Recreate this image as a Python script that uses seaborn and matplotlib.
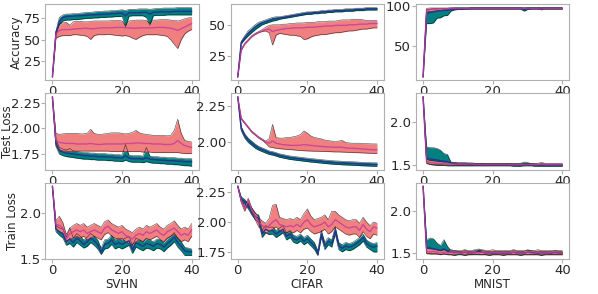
import matplotlib
matplotlib.use("Agg")
import matplotlib.pyplot as plt
import seaborn as sns

epochs = list(range(41))
datasets = ["SVHN", "CIFAR", "MNIST"]
metrics = ["Accuracy", "Test Loss", "Train Loss"]

# ---------------- Accuracy ----------------
svhn_acc_t = [7, 57, 72, 76, 77, 77.5, 77.5, 78, 78, 78.5, 78.5, 79, 79, 79.5, 79.5, 80, 80, 80.5, 80.5, 81, 81,
              78, 81.5, 81.5, 81.5, 81.5, 82, 82, 80, 82, 82, 82.5, 82.5, 82.5, 82.5, 83, 83, 83, 83, 83, 83]
svhn_acc_t_lo = [7, 55, 68, 72, 73, 73, 73.5, 73.5, 74, 74.5, 75, 75, 75.5, 75.5, 76, 76, 76.5, 76.5, 77, 77, 77.5,
                 65, 77.5, 78, 78, 78, 78, 76, 67, 78, 78.5, 78.5, 78.5, 79, 79, 79, 79, 79, 79, 79, 79]
svhn_acc_t_hi = [7, 60, 76, 79, 80, 80, 80.5, 80.5, 81, 81.5, 82, 82, 82.5, 83, 83, 83.5, 83.5, 84, 84, 84.5, 85,
                 84, 85.5, 85.5, 85.5, 86, 86, 86, 85.5, 86, 86.5, 86.5, 87, 87, 87, 87, 87.5, 87.5, 87.5, 87.5, 87.5]
svhn_acc_s = [7, 57, 61, 62, 62, 62, 62.5, 63, 63, 63.5, 63.5, 63, 63, 63.5, 64, 64, 64, 64, 64.5, 64.5, 64.5,
              64, 64, 63.5, 63.5, 64, 64, 64, 64, 64, 64.5, 64.5, 64.5, 64, 63.5, 62.5, 61, 63, 65, 67, 69]
svhn_acc_s_lo = [7, 52, 54, 55, 55, 55, 56, 56, 55.5, 55, 54, 50.5, 55, 56, 56, 56, 56.5, 56, 55.5, 55, 54.5,
                 55, 54, 52, 50.5, 53, 55, 56, 56, 56, 56, 55.5, 55, 54, 50, 45, 40, 50, 57, 60, 62]
svhn_acc_s_hi = [7, 60, 68, 70, 70.5, 67, 71, 71.5, 71.5, 71, 71, 71.5, 72, 72, 72, 72, 72, 72.5, 72.5, 72.5, 72,
                 67, 72, 72.5, 73, 73, 73, 72.5, 69, 73, 73, 73.5, 73.5, 73.5, 73, 72.5, 72, 73, 74.5, 75.5, 76]

cifar_acc_t = [8, 36, 40, 43.5, 46, 48.5, 50.5, 52, 53, 54, 55, 55.5, 56, 56.5, 57, 57.5, 58, 58.5, 59, 59.5, 60,
               60, 60.5, 60.5, 61, 61, 61.5, 61.5, 62, 62, 62, 62.5, 62.5, 62.5, 63, 63, 63, 63.5, 63.5, 63.5, 63.5]
cifar_acc_t_lo = [8, 35, 38.5, 41.5, 44, 46.5, 48.5, 50.5, 51.5, 52.5, 53.5, 54, 55, 55.5, 56, 56.5, 57, 57.5, 58,
                  58.5, 59, 59, 59.5, 59.5, 60, 60, 60.5, 60.5, 61, 61, 61, 61.5, 61.5, 61.5, 62, 62, 62, 62.5,
                  62.5, 62.5, 62.5]
cifar_acc_t_hi = [8, 37, 41.5, 45.5, 48, 50.5, 52.5, 53.5, 54.5, 55.5, 56.5, 57, 57, 57.5, 58, 58.5, 59, 59.5, 60,
                  60.5, 61, 61, 61.5, 61.5, 62, 62, 62.5, 62.5, 63, 63, 63, 63.5, 63.5, 63.5, 64, 64, 64, 64.5,
                  64.5, 64.5, 64.5]
cifar_acc_s = [8, 30, 35, 38, 41, 43, 44.5, 45.5, 46.5, 47, 45, 46, 46.5, 47, 47.5, 47.5, 48, 48, 48, 48, 48.5,
               48.5, 48.5, 49, 49, 49.5, 49.5, 49.5, 50, 50, 50, 50, 50.5, 50.5, 50.5, 51, 51, 51, 51.5, 51.5, 51.5]
cifar_acc_s_lo = [8, 29.5, 34.5, 37.5, 40.5, 42.5, 44, 45, 45.5, 44, 34, 42, 43.5, 43, 42.5, 42, 42, 41.5, 41,
                  38.5, 39, 40.5, 41.5, 42, 42.5, 42.5, 43, 43.5, 44, 44, 44.5, 45, 45.5, 45.5, 46, 46.5, 47, 47,
                  47.5, 48, 48]
cifar_acc_s_hi = [8, 30.5, 35.5, 38.5, 41.5, 43.5, 45, 46.5, 48.5, 50, 50.5, 50.5, 50.5, 51, 51, 51.5, 51.5, 52,
                  52, 52, 52.5, 52.5, 52.5, 53, 53, 53, 53.5, 53.5, 53.5, 54, 54.5, 54.5, 54.5, 55, 55, 55, 54.5,
                  54, 54, 54, 54]

mnist_acc_t = [10, 91, 92.5, 93, 94, 94.5, 95, 95, 96, 96.5, 97, 97, 97, 97, 97.5, 97.5, 97.5, 97.5, 97.5, 97.5,
               97.5, 97.5, 97.5, 97.5, 97.5, 97.5, 97.5, 97.5, 97.5, 96.5, 97, 97.5, 97.5, 97.5, 97.5, 97.5, 97.5,
               97.5, 97.5, 97.5, 97.5]
mnist_acc_t_lo = [10, 78, 78, 79, 85, 85.5, 88, 88.5, 94, 95.5, 96, 96, 96.5, 96.5, 96.5, 96.5, 96.5, 96.5, 96.5,
                  96.5, 96.5, 96.5, 96.5, 96.5, 96.5, 96.5, 96.5, 96.5, 96.5, 94, 96, 96.5, 96.5, 96.5, 96.5, 96.5,
                  96.5, 96.5, 96.5, 96.5, 96.5]
mnist_acc_t_hi = [10, 96, 96.5, 97, 97, 97, 97.5, 97.5, 97.5, 98, 98, 98, 98, 98, 98.5, 98.5, 98.5, 98.5, 98.5,
                  98.5, 98.5, 98.5, 98.5, 98.5, 98.5, 98.5, 98.5, 98.5, 98.5, 98, 98.5, 98.5, 98.5, 98.5, 98.5,
                  98.5, 98.5, 98.5, 98.5, 98.5, 98.5]
mnist_acc_s = [10, 95.5, 96, 96.5, 96.5, 97, 97, 97, 97.5, 97.5, 97.5, 97.5, 97.5, 97.5, 97.5, 97.5, 97.5, 97.5,
               97.5, 97.5, 97.5, 97.5, 97.5, 97.5, 97.5, 97.5, 97.5, 97.5, 97.5, 97.5, 97.5, 97.5, 97.5, 97.5,
               96.5, 97.5, 97.5, 97.5, 97.5, 97.5, 97.5]
mnist_acc_s_lo = [10, 93, 93.5, 94, 94.5, 95, 95.5, 96, 96.5, 96.5, 97, 97, 97, 97, 97, 97, 97, 97, 97, 97, 97, 97,
                  97, 97, 97, 97, 97, 97, 97, 97, 97, 97, 97, 97, 95.5, 97, 97, 97, 97, 97, 97]
mnist_acc_s_hi = [10, 97.5, 98, 98, 98, 98, 98, 98, 98.5, 98.5, 98.5, 98.5, 98.5, 98.5, 98.5, 98.5, 98.5, 98.5,
                  98.5, 98.5, 98.5, 98.5, 98.5, 98.5, 98.5, 98.5, 98.5, 98.5, 98.5, 98.5, 98.5, 98.5, 98.5, 98.5,
                  98, 98.5, 98.5, 98.5, 98.5, 98.5, 98.5]

# ---------------- Test loss ----------------
svhn_test_t = [2.31, 1.86, 1.78, 1.765, 1.755, 1.75, 1.745, 1.74, 1.735, 1.73, 1.73, 1.725, 1.725, 1.72, 1.72,
               1.72, 1.715, 1.715, 1.71, 1.71, 1.705, 1.73, 1.705, 1.70, 1.70, 1.70, 1.695, 1.71, 1.695, 1.69,
               1.69, 1.685, 1.685, 1.68, 1.68, 1.68, 1.675, 1.675, 1.67, 1.67, 1.67]
svhn_test_t_lo = [2.31, 1.82, 1.745, 1.73, 1.72, 1.715, 1.71, 1.705, 1.70, 1.695, 1.695, 1.69, 1.69, 1.685, 1.685,
                  1.685, 1.68, 1.68, 1.675, 1.675, 1.67, 1.685, 1.67, 1.665, 1.665, 1.665, 1.66, 1.67, 1.66, 1.655,
                  1.655, 1.65, 1.65, 1.645, 1.645, 1.64, 1.64, 1.635, 1.63, 1.63, 1.625]
svhn_test_t_hi = [2.31, 1.89, 1.81, 1.795, 1.785, 1.80, 1.775, 1.77, 1.765, 1.76, 1.76, 1.755, 1.755, 1.75, 1.75,
                  1.75, 1.745, 1.745, 1.74, 1.74, 1.735, 1.84, 1.735, 1.73, 1.73, 1.73, 1.725, 1.81, 1.725, 1.72,
                  1.72, 1.715, 1.715, 1.71, 1.71, 1.71, 1.705, 1.705, 1.70, 1.70, 1.70]
svhn_test_s = [2.31, 1.88, 1.86, 1.855, 1.85, 1.85, 1.85, 1.845, 1.845, 1.845, 1.845, 1.85, 1.845, 1.84, 1.84,
               1.845, 1.845, 1.845, 1.845, 1.845, 1.845, 1.85, 1.85, 1.85, 1.855, 1.855, 1.85, 1.85, 1.85, 1.845,
               1.845, 1.845, 1.84, 1.84, 1.84, 1.85, 1.88, 1.85, 1.83, 1.82, 1.81]
svhn_test_s_lo = [2.31, 1.83, 1.79, 1.775, 1.775, 1.77, 1.775, 1.775, 1.775, 1.775, 1.775, 1.775, 1.775, 1.775,
                  1.775, 1.775, 1.775, 1.77, 1.77, 1.77, 1.77, 1.77, 1.77, 1.77, 1.77, 1.77, 1.765, 1.765, 1.765,
                  1.76, 1.76, 1.76, 1.76, 1.76, 1.76, 1.76, 1.76, 1.755, 1.75, 1.75, 1.75]
svhn_test_s_hi = [2.31, 1.95, 1.94, 1.945, 1.95, 1.95, 1.95, 1.95, 1.945, 1.945, 1.95, 1.99, 1.95, 1.94, 1.94,
                  1.945, 1.95, 1.955, 1.955, 1.955, 1.95, 1.945, 1.95, 1.96, 1.98, 1.955, 1.945, 1.94, 1.935, 1.93,
                  1.93, 1.93, 1.93, 1.925, 1.93, 1.98, 2.09, 1.95, 1.88, 1.87, 1.865]

cifar_test_t = [2.31, 2.09, 2.04, 2.01, 1.99, 1.97, 1.955, 1.945, 1.935, 1.925, 1.92, 1.913, 1.905, 1.90, 1.895,
                1.89, 1.887, 1.884, 1.881, 1.878, 1.875, 1.872, 1.87, 1.867, 1.865, 1.862, 1.86, 1.858, 1.856,
                1.855, 1.853, 1.852, 1.851, 1.85, 1.849, 1.847, 1.846, 1.845, 1.844, 1.843, 1.843]
cifar_test_t_lo = [2.31, 2.075, 2.025, 1.995, 1.975, 1.955, 1.942, 1.932, 1.922, 1.913, 1.908, 1.901, 1.893,
                   1.888, 1.883, 1.878, 1.875, 1.872, 1.869, 1.866, 1.863, 1.86, 1.858, 1.855, 1.853, 1.85, 1.848,
                   1.846, 1.844, 1.843, 1.841, 1.84, 1.839, 1.838, 1.837, 1.835, 1.834, 1.833, 1.832, 1.831, 1.831]
cifar_test_t_hi = [2.31, 2.105, 2.055, 2.025, 2.005, 1.985, 1.968, 1.958, 1.948, 1.937, 1.932, 1.925, 1.917,
                   1.912, 1.907, 1.902, 1.899, 1.896, 1.893, 1.89, 1.887, 1.884, 1.882, 1.879, 1.877, 1.874, 1.872,
                   1.87, 1.868, 1.867, 1.865, 1.864, 1.863, 1.862, 1.861, 1.859, 1.858, 1.857, 1.856, 1.855, 1.855]
cifar_test_s = [2.31, 2.16, 2.13, 2.10, 2.07, 2.05, 2.03, 2.015, 2.0, 1.99, 2.005, 1.99, 1.985, 1.98, 1.978,
                1.976, 1.975, 1.975, 1.977, 1.98, 1.978, 1.975, 1.972, 1.97, 1.968, 1.966, 1.965, 1.963, 1.962,
                1.963, 1.962, 1.958, 1.956, 1.955, 1.954, 1.952, 1.95, 1.948, 1.946, 1.945, 1.944]
cifar_test_s_lo = [2.31, 2.155, 2.125, 2.095, 2.065, 2.045, 2.025, 2.01, 1.99, 1.965, 1.96, 1.955, 1.952, 1.95,
                   1.948, 1.946, 1.944, 1.942, 1.94, 1.938, 1.937, 1.936, 1.935, 1.935, 1.934, 1.933, 1.932, 1.931,
                   1.93, 1.93, 1.929, 1.928, 1.927, 1.926, 1.925, 1.924, 1.923, 1.922, 1.921, 1.92, 1.92]
cifar_test_s_hi = [2.31, 2.165, 2.135, 2.105, 2.075, 2.055, 2.035, 2.02, 2.005, 2.02, 2.12, 2.03, 2.025, 2.025,
                   2.03, 2.03, 2.035, 2.04, 2.05, 2.075, 2.06, 2.04, 2.03, 2.025, 2.02, 2.012, 2.008, 2.005, 2.0,
                   2.005, 2.01, 1.995, 1.992, 1.99, 1.99, 1.99, 1.988, 1.987, 1.986, 1.985, 1.985]

mnist_test_t = [2.30, 1.58, 1.565, 1.56, 1.555, 1.545, 1.54, 1.535, 1.515, 1.51, 1.505, 1.505, 1.505, 1.505, 1.50,
                1.50, 1.50, 1.50, 1.50, 1.50, 1.50, 1.50, 1.50, 1.50, 1.50, 1.50, 1.495, 1.495, 1.495, 1.50, 1.505,
                1.50, 1.495, 1.495, 1.495, 1.495, 1.495, 1.495, 1.495, 1.495, 1.495]
mnist_test_t_lo = [2.30, 1.52, 1.50, 1.495, 1.49, 1.49, 1.49, 1.485, 1.485, 1.485, 1.485, 1.485, 1.485, 1.485,
                   1.485, 1.485, 1.485, 1.485, 1.485, 1.485, 1.485, 1.485, 1.485, 1.485, 1.485, 1.485, 1.48, 1.48,
                   1.48, 1.485, 1.485, 1.485, 1.48, 1.48, 1.48, 1.48, 1.48, 1.48, 1.48, 1.48, 1.48]
mnist_test_t_hi = [2.30, 1.71, 1.70, 1.70, 1.69, 1.67, 1.63, 1.62, 1.53, 1.525, 1.52, 1.52, 1.52, 1.515, 1.515,
                   1.515, 1.515, 1.515, 1.51, 1.51, 1.51, 1.51, 1.51, 1.51, 1.51, 1.51, 1.51, 1.51, 1.515, 1.53,
                   1.525, 1.51, 1.51, 1.505, 1.51, 1.505, 1.505, 1.505, 1.505, 1.505, 1.505]
mnist_test_s = [2.30, 1.535, 1.525, 1.52, 1.515, 1.515, 1.51, 1.51, 1.51, 1.505, 1.505, 1.505, 1.505, 1.505,
                1.505, 1.50, 1.50, 1.50, 1.50, 1.50, 1.50, 1.50, 1.50, 1.50, 1.50, 1.50, 1.50, 1.50, 1.50, 1.50,
                1.50, 1.50, 1.50, 1.50, 1.505, 1.50, 1.50, 1.50, 1.50, 1.50, 1.50]
mnist_test_s_lo = [2.30, 1.51, 1.505, 1.50, 1.50, 1.50, 1.495, 1.495, 1.495, 1.49, 1.49, 1.49, 1.49, 1.49, 1.49,
                   1.49, 1.49, 1.49, 1.49, 1.49, 1.49, 1.49, 1.49, 1.49, 1.49, 1.49, 1.49, 1.49, 1.49, 1.49, 1.49,
                   1.49, 1.49, 1.49, 1.49, 1.49, 1.49, 1.49, 1.49, 1.49, 1.49]
mnist_test_s_hi = [2.30, 1.56, 1.55, 1.545, 1.54, 1.535, 1.53, 1.53, 1.525, 1.525, 1.52, 1.52, 1.52, 1.52, 1.52,
                   1.515, 1.515, 1.515, 1.515, 1.515, 1.515, 1.515, 1.515, 1.515, 1.515, 1.515, 1.515, 1.515,
                   1.515, 1.515, 1.515, 1.515, 1.515, 1.515, 1.525, 1.515, 1.515, 1.515, 1.515, 1.515, 1.515]

# ---------------- Train loss ----------------
svhn_train_t = [2.30, 1.83, 1.80, 1.78, 1.69, 1.72, 1.68, 1.73, 1.70, 1.66, 1.69, 1.73, 1.70, 1.66, 1.57, 1.66,
                1.67, 1.71, 1.66, 1.68, 1.66, 1.68, 1.70, 1.60, 1.68, 1.66, 1.64, 1.67, 1.66, 1.64, 1.67, 1.66,
                1.63, 1.67, 1.70, 1.74, 1.68, 1.64, 1.59, 1.58, 1.58]
svhn_train_t_lo = [2.30, 1.80, 1.76, 1.73, 1.65, 1.67, 1.63, 1.68, 1.65, 1.62, 1.64, 1.68, 1.65, 1.61, 1.55, 1.61,
                   1.62, 1.66, 1.61, 1.63, 1.61, 1.63, 1.65, 1.56, 1.63, 1.61, 1.59, 1.62, 1.61, 1.59, 1.62, 1.61,
                   1.58, 1.62, 1.65, 1.69, 1.63, 1.59, 1.54, 1.54, 1.54]
svhn_train_t_hi = [2.30, 1.87, 1.84, 1.83, 1.74, 1.84, 1.73, 1.78, 1.75, 1.71, 1.74, 1.78, 1.75, 1.71, 1.62, 1.71,
                   1.72, 1.76, 1.71, 1.73, 1.71, 1.73, 1.75, 1.65, 1.73, 1.71, 1.69, 1.72, 1.71, 1.69, 1.72, 1.71,
                   1.68, 1.72, 1.75, 1.79, 1.73, 1.69, 1.63, 1.62, 1.61]
svhn_train_s = [2.30, 1.88, 1.87, 1.84, 1.72, 1.78, 1.80, 1.82, 1.80, 1.82, 1.78, 1.80, 1.82, 1.80, 1.78, 1.84,
                1.86, 1.82, 1.80, 1.78, 1.80, 1.76, 1.74, 1.72, 1.76, 1.78, 1.76, 1.80, 1.78, 1.80, 1.82, 1.78,
                1.76, 1.80, 1.82, 1.84, 1.80, 1.76, 1.78, 1.76, 1.82]
svhn_train_s_lo = [2.30, 1.83, 1.80, 1.78, 1.68, 1.72, 1.73, 1.75, 1.73, 1.75, 1.71, 1.73, 1.75, 1.73, 1.71, 1.77,
                   1.79, 1.75, 1.73, 1.71, 1.73, 1.69, 1.67, 1.66, 1.69, 1.71, 1.69, 1.73, 1.71, 1.73, 1.75, 1.71,
                   1.69, 1.73, 1.75, 1.77, 1.73, 1.69, 1.71, 1.69, 1.75]
svhn_train_s_hi = [2.30, 1.92, 1.97, 1.90, 1.77, 1.84, 1.87, 1.89, 1.87, 1.89, 1.85, 1.87, 1.89, 1.87, 1.85, 1.91,
                   1.93, 1.89, 1.87, 1.85, 1.87, 1.83, 1.81, 1.79, 1.83, 1.85, 1.83, 1.87, 1.85, 1.87, 1.89, 1.85,
                   1.83, 1.87, 1.89, 1.92, 1.87, 1.83, 1.85, 1.83, 1.89]

cifar_train_t = [2.30, 2.19, 2.17, 2.13, 2.09, 2.045, 2.03, 1.90, 1.94, 1.925, 1.93, 1.90, 1.92, 1.94, 1.88, 1.90,
                 1.86, 1.85, 1.87, 1.84, 1.86, 1.83, 1.80, 1.73, 1.90, 1.80, 1.84, 1.82, 1.93, 1.80, 1.78, 1.80,
                 1.79, 1.80, 1.82, 1.84, 1.87, 1.82, 1.80, 1.79, 1.80]
cifar_train_t_lo = [2.30, 2.17, 2.15, 2.11, 2.06, 2.02, 2.0, 1.87, 1.91, 1.895, 1.90, 1.87, 1.89, 1.91, 1.85,
                    1.87, 1.83, 1.82, 1.84, 1.81, 1.83, 1.80, 1.77, 1.72, 1.87, 1.77, 1.81, 1.79, 1.90, 1.77, 1.75,
                    1.77, 1.76, 1.77, 1.79, 1.81, 1.84, 1.79, 1.77, 1.75, 1.75]
cifar_train_t_hi = [2.30, 2.21, 2.19, 2.15, 2.12, 2.07, 2.06, 1.93, 1.97, 1.955, 1.96, 1.93, 1.95, 1.97, 1.91,
                    1.93, 1.89, 1.88, 1.90, 1.87, 1.89, 1.86, 1.83, 1.76, 1.93, 1.83, 1.87, 1.85, 1.96, 1.83, 1.81,
                    1.83, 1.82, 1.83, 1.85, 1.87, 1.90, 1.85, 1.83, 1.82, 1.83]
cifar_train_s = [2.30, 2.18, 2.11, 2.18, 2.10, 2.05, 2.00, 1.97, 1.95, 1.97, 2.00, 2.02, 1.98, 1.97, 1.96, 1.97,
                 1.96, 1.98, 1.96, 2.00, 2.02, 1.98, 1.96, 1.97, 1.98, 2.00, 1.96, 1.98, 2.02, 2.00, 1.98, 1.96,
                 1.95, 1.96, 1.96, 1.93, 1.98, 1.94, 1.92, 1.96, 1.95]
cifar_train_s_lo = [2.30, 2.16, 2.09, 2.16, 2.08, 2.02, 1.96, 1.93, 1.91, 1.92, 1.94, 1.96, 1.93, 1.92, 1.91,
                    1.92, 1.91, 1.93, 1.91, 1.94, 1.95, 1.92, 1.90, 1.91, 1.92, 1.94, 1.90, 1.92, 1.96, 1.94, 1.92,
                    1.90, 1.89, 1.90, 1.90, 1.87, 1.92, 1.88, 1.86, 1.90, 1.89]
cifar_train_s_hi = [2.30, 2.20, 2.13, 2.20, 2.12, 2.08, 2.04, 2.01, 1.99, 2.03, 2.14, 2.15, 2.04, 2.03, 2.02,
                    2.03, 2.02, 2.04, 2.02, 2.07, 2.11, 2.05, 2.02, 2.03, 2.04, 2.06, 2.02, 2.09, 2.09, 2.06, 2.04,
                    2.02, 2.01, 2.02, 2.02, 1.99, 2.04, 2.00, 1.97, 2.00, 1.99]

mnist_train_t = [2.30, 1.56, 1.56, 1.55, 1.54, 1.53, 1.55, 1.52, 1.51, 1.51, 1.51, 1.50, 1.51, 1.50, 1.50, 1.51,
                 1.52, 1.51, 1.50, 1.50, 1.50, 1.50, 1.50, 1.50, 1.50, 1.50, 1.51, 1.50, 1.50, 1.50, 1.51, 1.51,
                 1.50, 1.50, 1.50, 1.50, 1.50, 1.50, 1.51, 1.50, 1.50]
mnist_train_t_lo = [2.30, 1.50, 1.49, 1.49, 1.49, 1.48, 1.49, 1.48, 1.48, 1.47, 1.48, 1.48, 1.47, 1.48, 1.48, 1.48,
                    1.48, 1.48, 1.48, 1.47, 1.48, 1.48, 1.48, 1.47, 1.48, 1.48, 1.48, 1.48, 1.47, 1.48, 1.48, 1.48,
                    1.48, 1.48, 1.47, 1.48, 1.48, 1.48, 1.48, 1.48, 1.48]
mnist_train_t_hi = [2.30, 1.66, 1.68, 1.67, 1.62, 1.59, 1.66, 1.58, 1.53, 1.53, 1.52, 1.52, 1.53, 1.52, 1.52, 1.53,
                    1.55, 1.53, 1.52, 1.52, 1.52, 1.52, 1.52, 1.52, 1.52, 1.52, 1.53, 1.52, 1.52, 1.52, 1.54, 1.53,
                    1.52, 1.52, 1.52, 1.52, 1.52, 1.52, 1.53, 1.52, 1.52]
mnist_train_s = [2.30, 1.52, 1.51, 1.52, 1.51, 1.50, 1.51, 1.50, 1.51, 1.50, 1.51, 1.50, 1.51, 1.50, 1.50, 1.51,
                 1.50, 1.51, 1.50, 1.50, 1.51, 1.50, 1.50, 1.51, 1.50, 1.50, 1.51, 1.50, 1.50, 1.50, 1.51, 1.50,
                 1.50, 1.51, 1.50, 1.50, 1.50, 1.51, 1.50, 1.50, 1.50]
mnist_train_s_lo = [2.30, 1.49, 1.49, 1.49, 1.49, 1.48, 1.49, 1.48, 1.48, 1.48, 1.49, 1.48, 1.48, 1.48, 1.48, 1.49,
                    1.48, 1.48, 1.48, 1.48, 1.48, 1.48, 1.48, 1.48, 1.48, 1.48, 1.48, 1.48, 1.48, 1.48, 1.48, 1.48,
                    1.48, 1.48, 1.48, 1.48, 1.48, 1.48, 1.48, 1.48, 1.48]
mnist_train_s_hi = [2.30, 1.56, 1.55, 1.55, 1.54, 1.53, 1.54, 1.53, 1.54, 1.53, 1.53, 1.53, 1.54, 1.53, 1.53, 1.54,
                    1.53, 1.54, 1.53, 1.53, 1.54, 1.53, 1.53, 1.53, 1.53, 1.53, 1.54, 1.53, 1.53, 1.53, 1.53, 1.53,
                    1.53, 1.54, 1.53, 1.53, 1.53, 1.53, 1.53, 1.53, 1.53]

panels = {
    (0, 0): (svhn_acc_t, svhn_acc_t_lo, svhn_acc_t_hi, svhn_acc_s, svhn_acc_s_lo, svhn_acc_s_hi),
    (0, 1): (cifar_acc_t, cifar_acc_t_lo, cifar_acc_t_hi, cifar_acc_s, cifar_acc_s_lo, cifar_acc_s_hi),
    (0, 2): (mnist_acc_t, mnist_acc_t_lo, mnist_acc_t_hi, mnist_acc_s, mnist_acc_s_lo, mnist_acc_s_hi),
    (1, 0): (svhn_test_t, svhn_test_t_lo, svhn_test_t_hi, svhn_test_s, svhn_test_s_lo, svhn_test_s_hi),
    (1, 1): (cifar_test_t, cifar_test_t_lo, cifar_test_t_hi, cifar_test_s, cifar_test_s_lo, cifar_test_s_hi),
    (1, 2): (mnist_test_t, mnist_test_t_lo, mnist_test_t_hi, mnist_test_s, mnist_test_s_lo, mnist_test_s_hi),
    (2, 0): (svhn_train_t, svhn_train_t_lo, svhn_train_t_hi, svhn_train_s, svhn_train_s_lo, svhn_train_s_hi),
    (2, 1): (cifar_train_t, cifar_train_t_lo, cifar_train_t_hi, cifar_train_s, cifar_train_s_lo, cifar_train_s_hi),
    (2, 2): (mnist_train_t, mnist_train_t_lo, mnist_train_t_hi, mnist_train_s, mnist_train_s_lo, mnist_train_s_hi),
}

yticks = {
    (0, 0): [25, 50, 75], (0, 1): [25, 50], (0, 2): [50, 100],
    (1, 0): [1.75, 2.00, 2.25], (1, 1): [2.00, 2.25], (1, 2): [1.5, 2.0],
    (2, 0): [1.5, 2.0], (2, 1): [1.75, 2.00, 2.25], (2, 2): [1.5, 2.0],
}
# where each row's y label sits (axes fraction), as in the reference
ylabel_x = [-0.15, -0.205, -0.175]

TEAL = "#008080"
SALMON = "#f08080"
BLUE = "#26348f"
MAGENTA = "#c4399c"
SPINE = "#b0b0b0"

sns.set_style("white")
plt.rcParams["font.family"] = ["DejaVu Sans"]

fig, axes = plt.subplots(3, 3, figsize=(5.98, 2.94), dpi=100)
fig.subplots_adjust(left=0.076, right=0.952, top=0.986, bottom=0.119, wspace=0.21, hspace=0.17)

for r in range(3):
    for c in range(3):
        ax = axes[r][c]
        m_t, lo_t, hi_t, m_s, lo_s, hi_s = panels[(r, c)]
        ax.fill_between(epochs, lo_t, hi_t, color=TEAL, lw=0)
        ax.fill_between(epochs, lo_s, hi_s, color=SALMON, lw=0)
        for edge in (lo_t, hi_t, lo_s, hi_s):
            ax.plot(epochs, edge, color="black", lw=0.45, alpha=0.65)
        sns.lineplot(x=epochs, y=m_t, ax=ax, color=BLUE, lw=1)
        sns.lineplot(x=epochs, y=m_s, ax=ax, color=MAGENTA, lw=1, alpha=0.8)
        ax.set_xticks([0, 20, 40])
        ax.set_yticks(yticks[(r, c)])
        ax.tick_params(axis="both", labelsize=9.5, length=3, width=0.8, color=SPINE, pad=0.5,
                       left=True, bottom=True)
        for sp in ax.spines.values():
            sp.set_color(SPINE)
            sp.set_linewidth(0.8)
        if c == 0:
            ax.set_ylabel(metrics[r], fontsize=8.5)
            ax.yaxis.set_label_coords(ylabel_x[r], 0.5)
        if r == 2:
            ax.set_xlabel(datasets[c], fontsize=8.5, labelpad=1)

fig.savefig("out.png", dpi=100)
